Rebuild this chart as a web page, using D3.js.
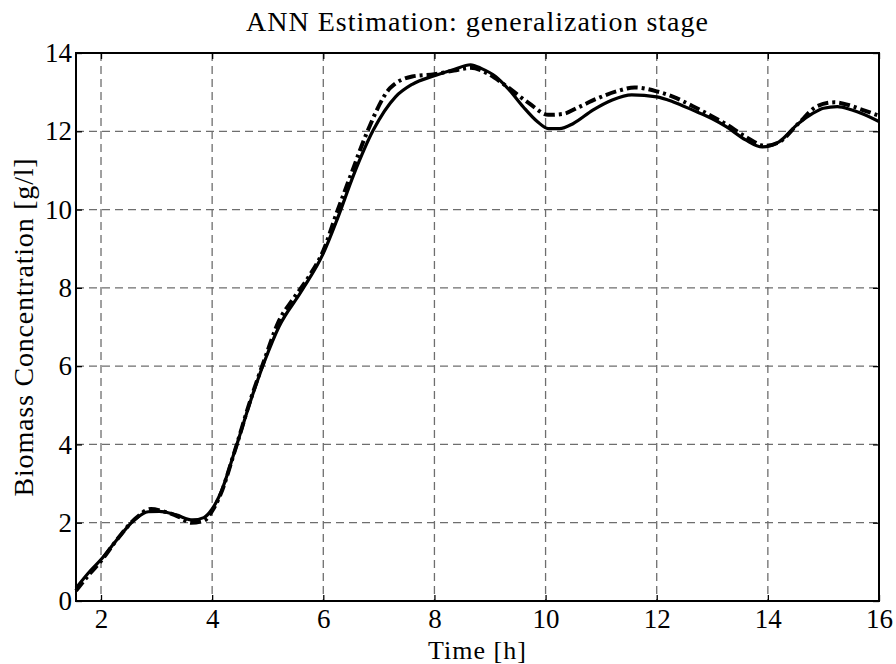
<!DOCTYPE html>
<html>
<head>
<meta charset="utf-8">
<script src="https://cdn.jsdelivr.net/npm/d3@7"></script>
<style>
  body { margin: 0; background: #fff; }
  svg text { font-family: "Liberation Serif", "DejaVu Serif", serif; fill: #000; }
</style>
</head>
<body>
<div id="chart"></div>
<script>
const timeSolid = [1.55, 1.8, 2.0, 2.25, 2.6, 2.85, 3.05, 3.35, 3.65, 3.85, 4.0, 4.15, 4.4, 4.7, 4.95, 5.2, 5.6, 6.0, 6.25, 6.55, 6.9, 7.3, 7.6, 8.0, 8.35, 8.65, 8.85, 9.1, 9.35, 9.6, 9.85, 10.05, 10.25, 10.5, 10.85, 11.2, 11.55, 12.0, 12.3, 12.65, 13.0, 13.25, 13.6, 13.9, 14.2, 14.55, 14.8, 15.0, 15.25, 15.5, 15.7, 16.0];
const biomassSolid = [0.33, 0.76, 1.06, 1.5, 2.07, 2.28, 2.29, 2.2, 2.07, 2.13, 2.35, 2.75, 3.8, 5.15, 6.15, 7.0, 7.9, 8.88, 9.75, 10.9, 12.03, 12.88, 13.2, 13.42, 13.58, 13.7, 13.6, 13.4, 13.05, 12.62, 12.25, 12.07, 12.07, 12.2, 12.54, 12.8, 12.93, 12.88, 12.75, 12.54, 12.32, 12.12, 11.78, 11.6, 11.73, 12.2, 12.45, 12.59, 12.63, 12.55, 12.45, 12.25];

const timeAnn = [1.55, 1.8, 2.0, 2.25, 2.6, 2.9, 3.1, 3.4, 3.62, 3.85, 4.0, 4.15, 4.4, 4.7, 4.95, 5.2, 5.45, 5.7, 6.0, 6.25, 6.5, 6.78, 7.2, 7.6, 8.0, 8.35, 8.65, 8.95, 9.25, 9.7, 10.05, 10.3, 10.6, 10.9, 11.3, 11.6, 12.0, 12.3, 12.65, 13.0, 13.25, 13.6, 13.95, 14.2, 14.55, 14.9, 15.2, 15.5, 15.7, 16.0];
const biomassAnn = [0.26, 0.7, 1.02, 1.5, 2.08, 2.35, 2.3, 2.15, 2.0, 2.05, 2.3, 2.72, 3.8, 5.18, 6.2, 7.15, 7.7, 8.2, 8.95, 9.95, 10.9, 11.95, 13.1, 13.4, 13.46, 13.55, 13.62, 13.48, 13.2, 12.72, 12.42, 12.44, 12.62, 12.82, 13.03, 13.12, 13.02, 12.88, 12.64, 12.38, 12.18, 11.86, 11.63, 11.72, 12.2, 12.65, 12.74, 12.65, 12.55, 12.4];

const xTicks = [2, 4, 6, 8, 10, 12, 14, 16];
const yTicks = [0, 2, 4, 6, 8, 10, 12, 14];

const W = 896, H = 664;
const margin = { top: 53, right: 17, bottom: 63, left: 76 };
const width = W - margin.left - margin.right,
  height = H - margin.top - margin.bottom;

const svg = d3.select("#chart").append("svg")
  .attr("width", W).attr("height", H);

const g = svg.append("g")
  .attr("transform", "translate(" + margin.left + "," + margin.top + ")");

const x = d3.scaleLinear().domain([1.55, 16]).range([0, width]);
const y = d3.scaleLinear().domain([0, 14]).range([height, 0]);

// grid
g.selectAll(".vgrid").data(xTicks).enter().append("line")
  .attr("x1", d => x(d)).attr("x2", d => x(d))
  .attr("y1", 0).attr("y2", height)
  .style("stroke", "#6e6e6e").style("stroke-width", 1.3)
  .style("stroke-dasharray", "8,5");
g.selectAll(".hgrid").data(yTicks).enter().append("line")
  .attr("x1", 0).attr("x2", width)
  .attr("y1", d => y(d)).attr("y2", d => y(d))
  .style("stroke", "#6e6e6e").style("stroke-width", 1.3)
  .style("stroke-dasharray", "8,5");

// axes, ticks pointing inward, on all four sides
const styleAxis = sel => {
  sel.attr("font-family", null).attr("font-size", null);
  sel.select(".domain").remove();
  sel.selectAll(".tick line").style("stroke", "#000").style("stroke-width", 1.3);
};
g.append("g").attr("transform", "translate(0," + height + ")")
  .call(d3.axisBottom(x).tickValues(xTicks).tickSizeInner(-6).tickSizeOuter(0).tickPadding(8))
  .call(styleAxis);
g.append("g")
  .call(d3.axisLeft(y).tickValues(yTicks).tickSizeInner(-6).tickSizeOuter(0).tickPadding(4))
  .call(styleAxis);
g.append("g")
  .call(d3.axisTop(x).tickValues(xTicks).tickSizeInner(-6).tickSizeOuter(0).tickFormat(""))
  .call(styleAxis);
g.append("g").attr("transform", "translate(" + width + ",0)")
  .call(d3.axisRight(y).tickValues(yTicks).tickSizeInner(-6).tickSizeOuter(0).tickFormat(""))
  .call(styleAxis);

svg.selectAll(".tick text")
  .style("font-family", "'Liberation Serif', serif")
  .style("font-size", "27px")
  .style("fill", "#000");

// lines
const line = d3.line().curve(d3.curveMonotoneX)
  .x(d => x(d[0])).y(d => y(d[1]));

g.append("defs").append("clipPath").attr("id", "clip")
  .append("rect").attr("x", -2).attr("y", 0).attr("width", width + 2).attr("height", height);

const area = g.append("g").attr("clip-path", "url(#clip)");

area.append("path")
  .datum(d3.zip(timeAnn, biomassAnn))
  .attr("d", line)
  .style("fill", "none").style("stroke", "#000").style("stroke-width", 4)
  .style("stroke-dasharray", "11,4,3,4");

area.append("path")
  .datum(d3.zip(timeSolid, biomassSolid))
  .attr("d", line)
  .style("fill", "none").style("stroke", "#000").style("stroke-width", 3.2);

// frame
g.append("rect").attr("width", width).attr("height", height)
  .style("fill", "none").style("stroke", "#000").style("stroke-width", 2);

// labels
svg.append("text").attr("x", margin.left + width / 2).attr("y", 31)
  .attr("text-anchor", "middle").style("font-size", "28px")
  .style("letter-spacing", "1px")
  .text("ANN Estimation: generalization stage");
svg.append("text").attr("x", margin.left + width / 2).attr("y", 659)
  .attr("text-anchor", "middle").style("font-size", "26px")
  .style("letter-spacing", "1px")
  .text("Time [h]");
svg.append("text")
  .attr("transform", "translate(33," + (margin.top + height / 2) + ") rotate(-90)")
  .attr("text-anchor", "middle").style("font-size", "28px")
  .style("letter-spacing", "0.8px")
  .text("Biomass Concentration [g/l]");
</script>
</body>
</html>
